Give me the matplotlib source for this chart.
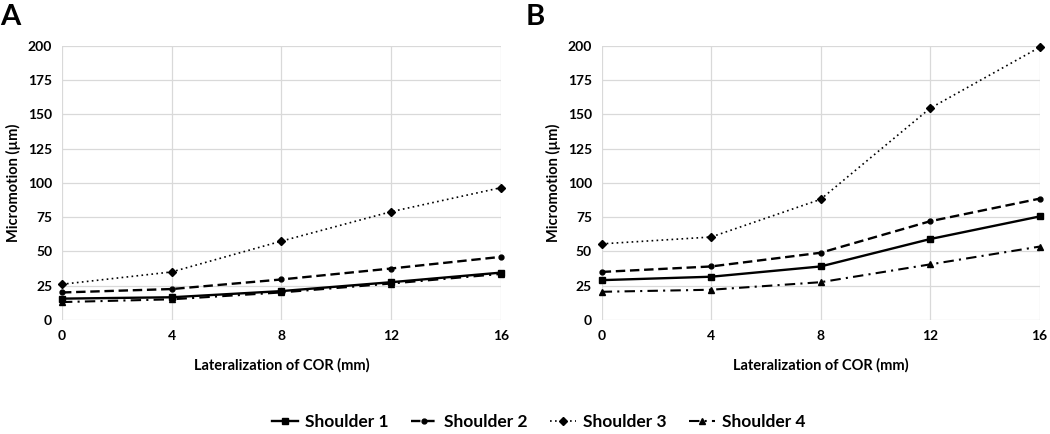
import matplotlib
matplotlib.use('Agg')
import matplotlib.pyplot as plt

plt.rcParams['font.family'] = ['Lato', 'DejaVu Sans']
plt.rcParams['font.weight'] = 'bold'

lateralization = [0, 4, 8, 12, 16]
labels = ['Shoulder 1', 'Shoulder 2', 'Shoulder 3', 'Shoulder 4']

# panel A
a_s1 = [15.5, 16.5, 21, 27.5, 34.5]
a_s2 = [20, 22.5, 29.5, 37.5, 46]
a_s3 = [26, 35, 57.5, 79, 96.5]
a_s4 = [13, 15, 20, 26.5, 33.5]

# panel B
b_s1 = [29, 31.5, 39, 59, 75.5]
b_s2 = [35, 39, 49, 72, 88.5]
b_s3 = [55.5, 60.5, 88, 154.5, 199]
b_s4 = [20.5, 22, 27.5, 40.5, 53.5]

styles = [
    dict(ls='-', marker='s', ms=5, lw=1.7),
    dict(ls=(0, (4, 2)), marker='o', ms=3.5, lw=1.7),
    dict(ls=(0, (1, 2)), marker='D', ms=4.5, lw=1.2),
    dict(ls=(0, (5, 2.5, 1, 2.5)), marker='^', ms=4, lw=1.5),
]

fig = plt.figure(figsize=(10.5, 4.34), dpi=100)
ax_a = fig.add_axes([0.059, 0.263, 0.418, 0.631])
ax_b = fig.add_axes([0.573, 0.263, 0.417, 0.631])

handles = []
for ax, series in [(ax_a, [a_s1, a_s2, a_s3, a_s4]),
                   (ax_b, [b_s1, b_s2, b_s3, b_s4])]:
    hs = []
    for y, st, lab in zip(series, styles, labels):
        h, = ax.plot(lateralization, y, color='black', label=lab, clip_on=False, zorder=3, **st)
        hs.append(h)
    handles = hs
    ax.set_xlim(0, 16)
    ax.set_ylim(0, 200)
    ax.set_xticks(lateralization)
    ax.set_yticks(range(0, 201, 25))
    ax.grid(True, color='#d9d9d9', lw=0.9)
    ax.set_axisbelow(True)
    for sp in ax.spines.values():
        sp.set_visible(False)
    ax.tick_params(length=0, labelsize=10, pad=7)
    ax.set_xlabel('Lateralization of COR (mm)', fontsize=10.5, fontweight='bold', labelpad=12)
    ax.set_ylabel('Micromotion (\u00b5m)', fontsize=10.5, fontweight='bold', labelpad=5)

fig.text(0.0, 0.99, 'A', fontsize=21, fontweight='bold', va='top', ha='left')
fig.text(0.501, 0.99, 'B', fontsize=21, fontweight='bold', va='top', ha='left')

fig.legend(handles=handles, labels=labels, loc='center', bbox_to_anchor=(0.513, 0.028),
           ncol=4, frameon=False, fontsize=12.5, handlelength=1.5, columnspacing=1.3,
           handletextpad=0.4)

fig.savefig('out.png', dpi=100)
